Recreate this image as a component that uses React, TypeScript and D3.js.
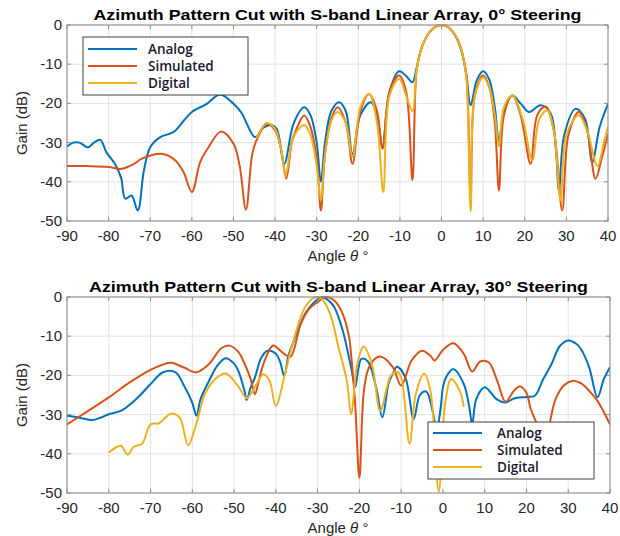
import React from 'react';
import * as d3 from 'd3';

type Pt = [number, number];

// 0 deg steering
const analog0: Pt[] = [
  [-90, -31], [-88.5, -30], [-87, -30], [-85, -31.2], [-83.5, -30], [-82, -29.3], [-80.5, -32.5],
  [-78.5, -35.4], [-77, -39], [-76, -44.3], [-74.5, -43.5], [-73, -47.3], [-71.5, -37], [-70, -31.2],
  [-67.6, -28.6], [-64.4, -27.3], [-62, -24.5], [-60, -22.2], [-56.4, -20.1], [-53.2, -17.7], [-50, -20.1],
  [-48, -22.5], [-46.8, -25.2], [-44.8, -28.6], [-42.8, -26.2], [-41, -25.5], [-39.6, -26.5], [-37.8, -35.4],
  [-35.5, -25], [-33, -21], [-31.5, -23], [-30, -30], [-29, -40], [-28, -30], [-26.5, -22], [-24.6, -19.7],
  [-23, -22], [-21.4, -32.9], [-19.5, -23], [-17, -19.7], [-15.5, -23], [-14.2, -31.2], [-12.5, -17],
  [-10.2, -11.8], [-8.5, -13], [-7, -14.6], [-6, -11], [-5, -6.5], [-4, -3.8], [-3, -2], [-2, -0.9],
  [-1, -0.2], [0, 0], [1, -0.2], [2, -0.9], [3, -2.2], [4, -4.2], [5, -7.5], [6, -13], [7, -20.5],
  [8.5, -14], [10, -11.8], [11.5, -14], [12.8, -21], [13.8, -29.5], [15, -22], [17, -18], [19, -20],
  [21, -22.2], [23.8, -20.5], [26.2, -22.5], [27.5, -32], [28.2, -42.6], [29.5, -28], [32.2, -21.4],
  [34.5, -24], [36.2, -35], [38, -26], [40, -20.1],
];

const simulated0: Pt[] = [
  [-90, -36], [-85, -36], [-80, -36.2], [-77, -36.7], [-74, -35.5], [-72, -34.1], [-67, -32.9], [-64, -34.5],
  [-62, -37.5], [-60, -42.6], [-58, -35], [-56, -31.2], [-53, -27.2], [-50, -30.3], [-48.5, -36], [-47, -47.1],
  [-45.5, -33], [-44.5, -29.5], [-42, -25.2], [-40, -26.9], [-38.5, -32], [-37.3, -39.2], [-36, -30],
  [-35, -26.9], [-33, -23.1], [-31.5, -26], [-30, -34], [-29, -47.3], [-28, -33], [-26.5, -24], [-25, -21],
  [-23, -25], [-21.4, -35.4], [-19.5, -22], [-17.4, -17.6], [-15.5, -22], [-14.2, -31.6], [-12.5, -17],
  [-10.2, -12.9], [-8.5, -17], [-7, -39.6], [-6, -11.5], [-5, -6.5], [-4, -3.8], [-3, -2], [-2, -0.9],
  [-1, -0.2], [0, 0], [1, -0.2], [2, -0.9], [3, -2.1], [4, -4], [5, -7.2], [6, -13], [7, -44], [8, -18],
  [10, -12.9], [11.5, -16], [12.8, -25], [13.8, -42.2], [15, -23], [17, -18], [19, -23], [21.4, -35.4],
  [23, -23], [25, -20.8], [27, -27], [29, -47.3], [30.5, -28], [33, -22.2], [35, -27], [37, -39.2],
  [38.5, -34], [40, -27.8],
];

const digital0: Pt[] = [
  [-44.5, -29], [-42, -25], [-40, -26.5], [-38.5, -32], [-37.5, -38.5], [-36, -30], [-35, -27.5],
  [-33, -25.5], [-31.5, -28], [-30, -36], [-29, -44.7], [-28, -33], [-26.5, -24.5], [-25, -22.2],
  [-23, -25], [-21.4, -33.7], [-19.5, -21], [-17.4, -17.6], [-15.5, -25], [-14, -42.6], [-12.5, -18],
  [-10.2, -13.8], [-8.5, -18], [-7, -22], [-6, -11.5], [-5, -6.5], [-4, -3.8], [-3, -2], [-2, -0.9],
  [-1, -0.2], [0, 0], [1, -0.2], [2, -0.9], [3, -2.1], [4, -4], [5, -7.2], [6, -14], [7, -47.5], [8, -18],
  [10, -13.4], [11.5, -16], [12.8, -23], [13.8, -31], [15, -21], [17, -18], [19.5, -24], [21.8, -34.5],
  [23.5, -24], [25.4, -21.8], [27, -27], [28.6, -44.7], [30, -28], [33, -23], [35, -27], [37.5, -36],
  [39, -30], [40, -26],
];

// 30 deg steering
const analog30: Pt[] = [
  [-90, -30.3], [-87, -30.8], [-84, -31.4], [-82, -30.8], [-80, -29.9], [-77, -29], [-73, -25.6], [-70, -22.2],
  [-67, -19.2], [-64, -19.2], [-62, -22.6], [-60, -27], [-59, -30.3], [-58, -26], [-56, -21.4], [-54, -17.5],
  [-52, -15.6], [-50, -17], [-49, -18.8], [-47.5, -24], [-47, -26.3], [-46, -23], [-45, -20.5], [-43.5, -15.5],
  [-42, -13.7], [-40, -14.5], [-39, -16.5], [-38, -20.1], [-37, -15], [-36, -12], [-33, -4.3], [-31, -1.5],
  [-29, 0], [-27.5, -0.8], [-26, -2.6], [-24, -8.5], [-22, -17.9], [-21, -23], [-20.2, -18], [-19.5, -15.8],
  [-18, -16.4], [-16, -23], [-14.5, -30.7], [-13, -22], [-12, -19.6], [-11, -17.8], [-9, -20.5], [-7, -31.1],
  [-5.5, -25], [-4, -24.1], [-2.5, -29], [-1.5, -34], [-0.5, -28], [0, -23], [1, -20], [2.5, -18.4],
  [5, -22.2], [6.3, -28], [7, -32.5], [8, -26], [10, -23], [13, -26.2], [15, -26.9], [17, -25.9], [20, -25.5],
  [22, -25.2], [24, -21], [26, -17.1], [28, -12.5], [30, -11.1], [32, -12], [33, -13.2], [35, -17.9],
  [37, -25.6], [38.5, -21], [40, -17.9],
];

const simulated30: Pt[] = [
  [-90, -32.5], [-85, -29.1], [-80, -25.6], [-75, -21.8], [-70, -18.6], [-67, -17.2], [-65, -16.8], [-62, -18],
  [-59, -19.2], [-56, -17.1], [-53, -13], [-51, -12.4], [-49, -14], [-48, -15.8], [-46, -21], [-45, -24.8],
  [-44, -21], [-43, -17.1], [-41, -12.6], [-40.5, -12.4], [-38, -14.5], [-36.5, -15.2], [-34, -6.8], [-32, -3],
  [-30, -1.3], [-28, 0], [-26, -0.9], [-24, -4.3], [-22.5, -10], [-22, -14.5], [-21, -27.4], [-20, -46.2],
  [-19, -24.8], [-18, -18.8], [-16.5, -16], [-15, -15.2], [-12, -17.9], [-10, -22.6], [-7.5, -16.2],
  [-5, -13.7], [-3, -15], [-2, -16.2], [0, -13.5], [2.5, -11.8], [5, -14.5], [7, -19], [9, -16.4], [11, -16.7],
  [13, -21.4], [15, -26.7], [17, -23.9], [18.5, -22.8], [20, -24.5], [21, -28.5], [22.5, -32.5], [24, -40],
  [25.5, -32.5], [27, -26], [29, -22.5], [31, -21.4], [33, -22], [35, -23.9], [37, -26.5], [40, -32.5],
];

const digital30: Pt[] = [
  [-80, -39.7], [-78, -38.2], [-77, -38], [-75.5, -40.2], [-74, -38.2], [-72, -37.4], [-70, -32.5], [-68, -32.2],
  [-65, -29.7], [-63, -30.8], [-61, -37.8], [-59, -32.2], [-57, -24.8], [-54.5, -20.9], [-52, -19.5],
  [-49, -22.8], [-47, -25.8], [-45, -23], [-43, -19.7], [-41.5, -21.4], [-40, -27.8], [-38, -20.5], [-36, -12],
  [-33, -2.6], [-30.5, 0], [-29, -0.5], [-27, -4.3], [-25, -12.8], [-23, -21.4], [-22, -29.9], [-20.5, -17.1],
  [-19, -12.6], [-17, -17.1], [-15, -29], [-12.5, -20.1], [-11, -19], [-10, -20.5], [-8, -37.4], [-6.5, -24.8],
  [-4.5, -19.6], [-3, -23.9], [-1, -49.6], [0.5, -27.4], [2, -20.9], [4, -23.9], [5, -28],
];

const xTicks = [-90, -80, -70, -60, -50, -40, -30, -20, -10, 0, 10, 20, 30, 40];
const yTicks = [0, -10, -20, -30, -40, -50];
const seriesNames = ['Analog', 'Simulated', 'Digital'];
const colors = ['#0072BD', '#D95319', '#EDB120'];

const tickFont = '"Liberation Sans", Arial, sans-serif';

function Panel({ id, title, titleLen, top, right, series, legend }: {
  id: string; title: string; titleLen: number; top: number; right: number; series: Pt[][];
  legend: { x: number; y: number; w: number; h: number; rows: number[]; lx: number; tx: number };
}) {
  const left = 67;
  const bottom = top + 196;
  const x = d3.scaleLinear().domain([-90, 40]).range([left, right]);
  const y = d3.scaleLinear().domain([-50, 0]).range([bottom, top]);
  const line = d3.line<Pt>()
    .x(d => x(d[0]))
    .y(d => y(d[1]))
    .curve(d3.curveCatmullRom.alpha(0.5));
  const midX = (left + right) / 2;
  return (
    <g>
      <defs>
        <clipPath id={id}>
          <rect x={left} y={top - 1} width={right - left} height={bottom - top + 2} />
        </clipPath>
      </defs>
      <rect x={left} y={top} width={right - left} height={bottom - top} fill="#fff" />
      {xTicks.map(t => (
        <line key={'gx' + t} x1={x(t)} x2={x(t)} y1={top} y2={bottom} stroke="#e3e3e3" strokeWidth={1} />
      ))}
      {yTicks.map(t => (
        <line key={'gy' + t} x1={left} x2={right} y1={y(t)} y2={y(t)} stroke="#e3e3e3" strokeWidth={1} />
      ))}
      <g clipPath={`url(#${id})`}>
        {series.map((s, i) => (
          <path key={i} d={line(s) ?? ''} fill="none" stroke={colors[i]} strokeWidth={2} strokeLinejoin="round" />
        ))}
      </g>
      <rect x={left} y={top} width={right - left} height={bottom - top} fill="none" stroke="#8c8c8c" strokeWidth={1} />
      {xTicks.map(t => (
        <g key={'tx' + t}>
          <line x1={x(t)} x2={x(t)} y1={bottom} y2={bottom - 4} stroke="#8c8c8c" />
          <line x1={x(t)} x2={x(t)} y1={top} y2={top + 4} stroke="#8c8c8c" />
          <text x={x(t)} y={bottom + 20} textAnchor="middle" fontFamily={tickFont} fontSize={15} fill="#262626">{t}</text>
        </g>
      ))}
      {yTicks.map(t => (
        <g key={'ty' + t}>
          <line x1={left} x2={left + 4} y1={y(t)} y2={y(t)} stroke="#8c8c8c" />
          <line x1={right} x2={right - 4} y1={y(t)} y2={y(t)} stroke="#8c8c8c" />
          <text x={left - 5} y={y(t) + 5} textAnchor="end" fontFamily={tickFont} fontSize={15} fill="#262626">{t}</text>
        </g>
      ))}
      <text x={midX} y={top - 5} textAnchor="middle" fontFamily={tickFont} fontWeight="bold" fontSize={15}
        textLength={titleLen} lengthAdjust="spacingAndGlyphs" fill="#000">{title}</text>
      <text transform={`translate(27,${(top + bottom) / 2}) rotate(-90)`} textAnchor="middle" fontFamily={tickFont} fontSize={15} fill="#262626">Gain (dB)</text>
      <text x={338} y={bottom + 40} textAnchor="middle" fontFamily={tickFont} fontSize={15} fill="#262626">
        Angle <tspan fontStyle="italic">θ</tspan> °
      </text>
      <rect x={legend.x} y={legend.y} width={legend.w} height={legend.h} fill="#fff" stroke="#404040" strokeWidth={1} />
      {seriesNames.map((n, i) => (
        <g key={n}>
          <line x1={legend.lx} x2={legend.lx + 49} y1={legend.rows[i]} y2={legend.rows[i]} stroke={colors[i]} strokeWidth={2} />
          <text x={legend.tx} y={legend.rows[i] + 5} fontFamily='"Open Sans", sans-serif' fontWeight={600} fontSize={13.5}
            fill="#1a1a2e">{n}</text>
        </g>
      ))}
    </g>
  );
}

export default function App() {
  return (
    <svg width={620} height={536} style={{ position: 'absolute', left: 0, top: 0, background: '#fff' }}>
      <Panel
        id="clip0"
        title="Azimuth Pattern Cut with S-band Linear Array, 0° Steering"
        titleLen={488}
        top={25}
        right={608}
        series={[analog0, simulated0, digital0]}
        legend={{ x: 83, y: 37, w: 165, h: 58, rows: [49, 66, 83], lx: 88, tx: 148 }}
      />
      <Panel
        id="clip30"
        title="Azimuth Pattern Cut with S-band Linear Array, 30° Steering"
        titleLen={499}
        top={297}
        right={610}
        series={[analog30, simulated30, digital30]}
        legend={{ x: 428, y: 422, w: 166, h: 57, rows: [433, 450, 467], lx: 433, tx: 497 }}
      />
    </svg>
  );
}
